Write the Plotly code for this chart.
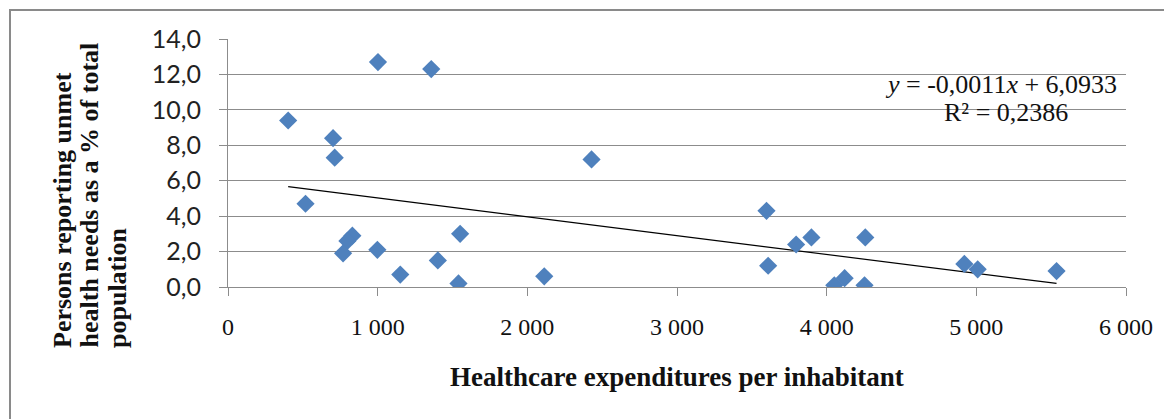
import plotly.graph_objects as go

# Healthcare expenditures per inhabitant (x) vs persons reporting unmet health needs (%) (y)
expenditure = [402, 1002, 1358, 702, 713, 2429, 518, 831, 798, 769, 998, 1551, 1402, 1151,
               1540, 2113, 3598, 3609, 3796, 3898, 4258, 4253, 4051, 4120, 4920, 5009, 5536]
unmet_needs = [9.4, 12.7, 12.3, 8.4, 7.3, 7.2, 4.7, 2.9, 2.6, 1.9, 2.1, 3.0, 1.5, 0.7,
               0.2, 0.6, 4.3, 1.2, 2.4, 2.8, 2.8, 0.1, 0.1, 0.5, 1.3, 1.0, 0.9]

# linear trendline coefficients (y = slope*x + intercept)
trend_slope = -0.001064
trend_intercept = 6.0933

x_tickvals = [0, 1000, 2000, 3000, 4000, 5000, 6000]
x_ticktext = ["0", "1 000", "2 000", "3 000", "4 000", "5 000", "6 000"]
y_tickvals = [0, 2, 4, 6, 8, 10, 12, 14]
y_ticktext = ["0,0", "2,0", "4,0", "6,0", "8,0", "10,0", "12,0", "14,0"]

equation_text = "<i>y</i> = -0,0011<i>x</i> + 6,0933"
r2_text = "R² = 0,2386"
x_title = "Healthcare expenditures per inhabitant"
y_title_lines = ["Persons reporting unmet", "health needs as a % of total", "population"]

trend_x = [min(expenditure), max(expenditure)]
trend_y = [trend_slope * v + trend_intercept for v in trend_x]

fig = go.Figure()
fig.add_trace(go.Scatter(
    x=trend_x, y=trend_y, mode="lines",
    line=dict(color="black", width=1.2), hoverinfo="skip", showlegend=False))
fig.add_trace(go.Scatter(
    x=expenditure, y=unmet_needs, mode="markers",
    marker=dict(symbol="diamond", size=14, color="#4F81BD", line=dict(width=0)),
    showlegend=False))

# page offset (browser body margin) and plot-area geometry in page px
OFF = 8
W, H = 1172 - OFF, 419 - OFF
L, R, T, B = 228 - OFF, 1126 - OFF, 39 - OFF, 287 - OFF
pw, ph = R - L, B - T

def px_x(p):
    return (p - OFF - L) / pw

def px_y(p):
    return (B - (p - OFF)) / ph

grey = "#8c8c8c"
fig.update_xaxes(
    range=[0, 6000], tickvals=x_tickvals, ticktext=x_ticktext,
    showgrid=False, zeroline=False, showline=True, linecolor=grey, linewidth=1,
    ticks="outside", ticklen=8, tickcolor=grey, ticklabelstandoff=10,
    tickfont=dict(family="Liberation Serif", size=24, color="#111"))
fig.update_yaxes(
    range=[0, 14], tickvals=y_tickvals, ticktext=y_ticktext,
    showgrid=True, gridcolor=grey, gridwidth=1, zeroline=False,
    showline=True, linecolor=grey, linewidth=1,
    ticks="outside", ticklen=8, tickcolor=grey, ticklabelstandoff=13,
    tickfont=dict(family="Lato", size=25, color="#222"))

annotations = [
    dict(text=equation_text, x=px_x(1001), y=px_y(85), xref="paper", yref="paper",
         showarrow=False, xanchor="center", yanchor="middle",
         font=dict(family="Liberation Serif", size=26, color="#111")),
    dict(text=r2_text, x=px_x(1006), y=px_y(113), xref="paper", yref="paper",
         showarrow=False, xanchor="center", yanchor="middle",
         font=dict(family="Liberation Serif", size=26, color="#111")),
    dict(text="<b>" + x_title + "</b>", x=px_x(677), y=px_y(377), xref="paper", yref="paper",
         showarrow=False, xanchor="center", yanchor="middle",
         font=dict(family="Liberation Serif", size=27, color="#111")),
]
for line, cx in zip(y_title_lines, [62, 89, 117]):
    annotations.append(dict(
        text="<b>" + line + "</b>", x=px_x(cx), y=px_y(350), xref="paper", yref="paper",
        showarrow=False, textangle=-90, xanchor="center", yanchor="bottom",
        font=dict(family="Liberation Serif", size=26, color="#111")))

fig.update_layout(
    width=W, height=H, autosize=False,
    margin=dict(l=L, r=W - R, t=T, b=H - B, pad=0),
    paper_bgcolor="white", plot_bgcolor="white",
    annotations=annotations,
    shapes=[dict(type="rect", xref="paper", yref="paper",
                 x0=px_x(10), x1=px_x(1200), y0=px_y(440), y1=px_y(10),
                 line=dict(color="#8a8a8a", width=2), fillcolor="rgba(0,0,0,0)")],
)

fig.write_html("out.html")
